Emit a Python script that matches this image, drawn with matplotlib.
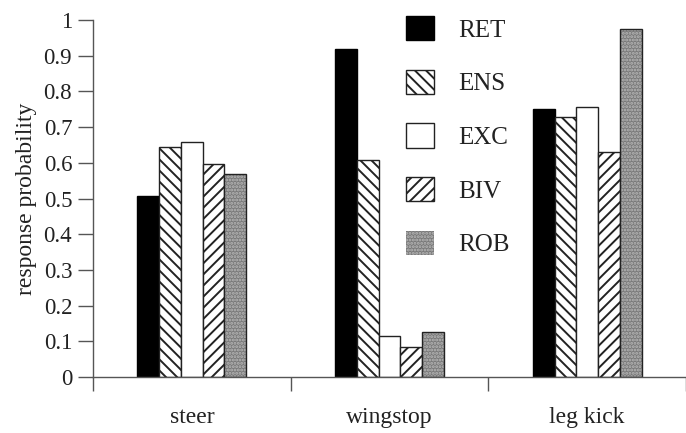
import matplotlib
matplotlib.use("Agg")
import matplotlib.pyplot as plt
import numpy as np

categories = ["steer", "wingstop", "leg kick"]
series = ["RET", "ENS", "EXC", "BIV", "ROB"]
RET = [0.507, 0.919, 0.751]
ENS = [0.644, 0.608, 0.728]
EXC = [0.658, 0.115, 0.756]
BIV = [0.597, 0.084, 0.630]
ROB = [0.569, 0.126, 0.975]
yticks = [0, 0.1, 0.2, 0.3, 0.4, 0.5, 0.6, 0.7, 0.8, 0.9, 1]
ytick_labels = ["0", "0.1", "0.2", "0.3", "0.4", "0.5", "0.6", "0.7", "0.8", "0.9", "1"]

plt.rcParams['font.family'] = ['Liberation Serif', 'DejaVu Serif']
plt.rcParams['hatch.linewidth'] = 1.4

fig = plt.figure(figsize=(6.86, 4.33), dpi=100)
ax = fig.add_axes([93/686, 1-377/433, 1-93/686, (377-20)/433])

x = np.arange(len(categories)) + 0.5
w = 0.11
vals = [RET, ENS, EXC, BIV, ROB]
styles = [
    dict(facecolor="black", edgecolor="black", hatch=None),
    dict(facecolor="white", edgecolor="#222222", hatch="\\\\\\"),
    dict(facecolor="white", edgecolor="#222222", hatch=None),
    dict(facecolor="white", edgecolor="#222222", hatch="///"),
    dict(facecolor="#7a7a7a", edgecolor="#b8b8b8", hatch="....."),
]
handles = []
for i, (v, st, name) in enumerate(zip(vals, styles, series)):
    pos = x + (i - 2) * w
    if name == "ROB":
        b = ax.bar(pos, v, w, facecolor=st["facecolor"], edgecolor=st["edgecolor"],
                   hatch=st["hatch"], linewidth=0, label=name)
        ax.bar(pos, v, w, facecolor="none", edgecolor="#222222", linewidth=1.0)
    else:
        b = ax.bar(pos, v, w, facecolor=st["facecolor"], edgecolor=st["edgecolor"],
                   hatch=st["hatch"], linewidth=1.0, label=name)
    handles.append(b)

ax.set_xlim(0, 593/200)
ax.set_ylim(0, 1)
for s in ["top", "right"]:
    ax.spines[s].set_visible(False)
for s in ["left", "bottom"]:
    ax.spines[s].set_color("#555555")
    ax.spines[s].set_linewidth(1.0)

ax.set_yticks(yticks)
ax.set_yticklabels(ytick_labels, fontsize=16.5, color="#222222")
ax.tick_params(axis="y", direction="out", length=11, width=1.0, color="#555555", pad=4)

ax.set_xticks([0, 1, 2, 3])
ax.set_xticklabels([])
ax.tick_params(axis="x", which="major", direction="out", length=10, width=1.0, color="#555555")
ax.set_xticks(x, minor=True)
ax.set_xticklabels(categories, minor=True, fontsize=17, color="#222222")
ax.tick_params(axis="x", which="minor", length=0, pad=21.5)

ax.set_ylabel("response probability", fontsize=17, color="#222222", labelpad=2)
ax.yaxis.set_label_coords((37 - 93) / 593, 0.5)

fs = 18
leg = ax.legend(handles=handles, labels=series, loc="upper left",
                bbox_to_anchor=(406/686, 1-16/433), bbox_transform=fig.transFigure,
                frameon=False, fontsize=fs, borderpad=0, borderaxespad=0,
                handlelength=1.12, handleheight=1.12, labelspacing=1.12,
                handletextpad=0.96)
for t in leg.get_texts():
    t.set_color("#222222")

fig.savefig("out.png", dpi=100)
